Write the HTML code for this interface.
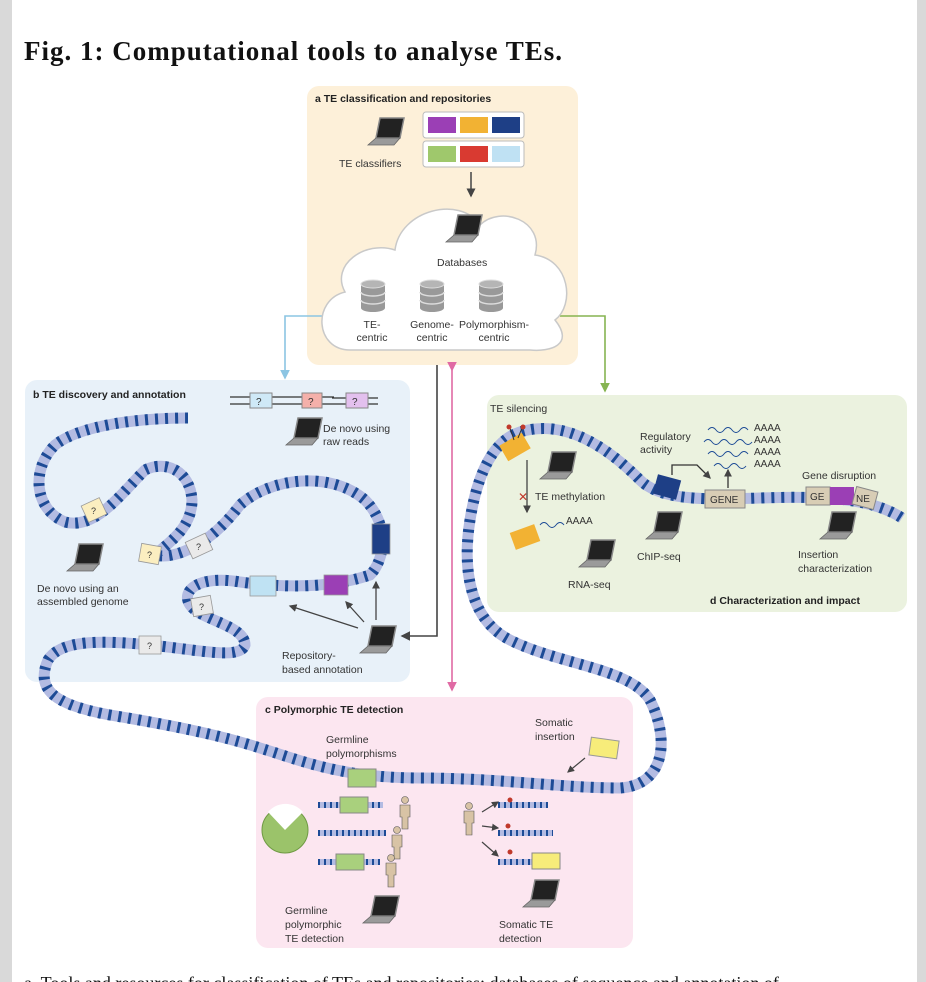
<!DOCTYPE html>
<html><head><meta charset="utf-8"><style>
body{margin:0;width:926px;height:982px;overflow:hidden;background:#fff;font-family:"Liberation Sans",sans-serif}
svg{position:absolute;left:0;top:0}
</style></head><body>
<svg width="926" height="982" viewBox="0 0 926 982" xmlns="http://www.w3.org/2000/svg" font-family="Liberation Sans, sans-serif">
<defs>
<g id="lap">
<path d="M6 0 L30 0 L26 20 L2 20 Z" fill="#222" stroke="#888" stroke-width="1.5"/>
<path d="M2 20 L26 20 L20 27 L-6 27 Z" fill="#9a9a9a" stroke="#666" stroke-width="0.8"/>
</g>
<g id="cyl">
<ellipse cx="0" cy="0" rx="12" ry="4" fill="#aaa"/>
<rect x="-12" y="0" width="24" height="24" fill="#999"/>
<ellipse cx="0" cy="24" rx="12" ry="4" fill="#999"/>
<path d="M-12 8 a12 4 0 0 0 24 0 M-12 16 a12 4 0 0 0 24 0" fill="none" stroke="#ddd" stroke-width="1.5"/>
<ellipse cx="0" cy="0" rx="12" ry="4" fill="#b5b5b5" stroke="#ddd"/>
</g>
<g id="man"><circle cx="0" cy="0" r="3.5" fill="#d8c3a5" stroke="#555" stroke-width="0.6"/><path d="M-5 5 h10 v12 h-2 v12 h-6 v-12 h-2 z" fill="#d8c3a5" stroke="#555" stroke-width="0.6"/></g>
<marker id="ah" markerWidth="6" markerHeight="6" refX="5" refY="3" orient="auto"><path d="M0 0 L6 3 L0 6 z" fill="#444"/></marker>
<marker id="ahg" markerWidth="6" markerHeight="6" refX="5" refY="3" orient="auto"><path d="M0 0 L6 3 L0 6 z" fill="#86b451"/></marker>
<marker id="ahb" markerWidth="6" markerHeight="6" refX="5" refY="3" orient="auto"><path d="M0 0 L6 3 L0 6 z" fill="#8cc5e3"/></marker>
<marker id="ahp" markerWidth="6" markerHeight="6" refX="5" refY="3" orient="auto"><path d="M0 0 L6 3 L0 6 z" fill="#e06aa4"/></marker>
</defs>
<rect x="0" y="0" width="12" height="982" fill="#d9d9d9"/>
<rect x="917" y="0" width="9" height="982" fill="#d9d9d9"/>
<text x="24" y="60" font-family="Liberation Serif, serif" font-weight="bold" font-size="27" letter-spacing="1" fill="#111">Fig. 1: Computational tools to analyse TEs.</text>

<rect x="307" y="86" width="271" height="279" rx="12" fill="#fdf0d9"/>
<rect x="25" y="380" width="385" height="302" rx="12" fill="#e8f1f9"/>
<rect x="487" y="395" width="420" height="217" rx="12" fill="#ebf2df"/>
<rect x="256" y="697" width="377" height="251" rx="12" fill="#fce6f0"/>

<path d="M330 316 H285 V378" fill="none" stroke="#8cc5e3" stroke-width="1.6" marker-end="url(#ahb)"/>
<path d="M560 316 H605 V391" fill="none" stroke="#86b451" stroke-width="1.6" marker-end="url(#ahg)"/>
<path d="M437 365 V636 H402" fill="none" stroke="#444" stroke-width="1.6" marker-end="url(#ah)"/>
<path d="M452 370 V690" fill="none" stroke="#e06aa4" stroke-width="1.6" marker-end="url(#ahp)" marker-start="url(#ahp)"/>

<text x="315" y="102" font-size="10.5" font-weight="bold" fill="#222">a  TE classification and repositories</text>
<use href="#lap" x="374" y="118"/>
<text x="339" y="167" font-size="10.5" fill="#333">TE classifiers</text>
<rect x="423" y="112" width="101" height="26" rx="3" fill="#fff" stroke="#bbb"/>
<rect x="428" y="117" width="28" height="16" fill="#9b3fb5"/><rect x="460" y="117" width="28" height="16" fill="#f2b233"/><rect x="492" y="117" width="28" height="16" fill="#1e3f86"/>
<rect x="423" y="141" width="101" height="26" rx="3" fill="#fff" stroke="#bbb"/>
<rect x="428" y="146" width="28" height="16" fill="#9fc86c"/><rect x="460" y="146" width="28" height="16" fill="#d93a31"/><rect x="492" y="146" width="28" height="16" fill="#bfe1f3"/>
<path d="M471 172 V196" stroke="#444" stroke-width="1.5" marker-end="url(#ah)"/>
<path d="M350 350 C315 350 312 300 345 292 C330 265 365 240 395 250 C400 210 460 195 480 225 C500 205 545 220 535 255 C570 260 575 305 555 320 C575 345 550 352 530 350 Z" fill="#fff" stroke="#c9c9c9" stroke-width="1.5"/>
<use href="#lap" x="452" y="215"/>
<text x="437" y="266" font-size="10.5" fill="#333">Databases</text>
<use href="#cyl" x="373" y="284"/><use href="#cyl" x="432" y="284"/><use href="#cyl" x="491" y="284"/>
<g font-size="10.5" fill="#333" text-anchor="middle">
<text x="372" y="328">TE-</text><text x="372" y="341">centric</text>
<text x="432" y="328">Genome-</text><text x="432" y="341">centric</text>
<text x="494" y="328">Polymorphism-</text><text x="494" y="341">centric</text>
</g>

<g fill="none">
<path d="M188 418 C140 418 80 425 55 445 C30 470 35 510 65 522 C95 530 120 495 145 470 C165 460 190 470 192 500 C192 530 165 545 155 555 C175 560 210 545 240 505 C270 478 330 470 365 500 C390 525 385 560 370 575 C340 585 300 590 240 582 C200 575 180 590 190 605 C200 620 245 625 245 645 C240 660 200 650 150 645 C100 640 60 640 48 660 C35 690 55 705 110 715 C170 725 220 735 260 748 C300 760 340 778 420 778 C500 778 560 788 620 788 C665 785 670 740 650 700 C630 668 560 665 510 640 C470 620 462 570 470 520 C478 470 495 440 520 432 C560 420 600 440 640 480 C660 500 700 500 760 498 C820 496 870 497 902 518" stroke="#b3bbe2" stroke-width="11"/>
<path d="M188 418 C140 418 80 425 55 445 C30 470 35 510 65 522 C95 530 120 495 145 470 C165 460 190 470 192 500 C192 530 165 545 155 555 C175 560 210 545 240 505 C270 478 330 470 365 500 C390 525 385 560 370 575 C340 585 300 590 240 582 C200 575 180 590 190 605 C200 620 245 625 245 645 C240 660 200 650 150 645 C100 640 60 640 48 660 C35 690 55 705 110 715 C170 725 220 735 260 748 C300 760 340 778 420 778 C500 778 560 788 620 788 C665 785 670 740 650 700 C630 668 560 665 510 640 C470 620 462 570 470 520 C478 470 495 440 520 432 C560 420 600 440 640 480 C660 500 700 500 760 498 C820 496 870 497 902 518" stroke="#1d4b96" stroke-width="11" stroke-dasharray="3 7"/>
</g>

<text x="33" y="398" font-size="10.5" font-weight="bold" fill="#222">b  TE discovery and annotation</text>
<g stroke="#333" stroke-width="1.2">
<path d="M230 397 H250 M272 397 H290 M230 404 H250 M272 404 H290 M290 397 h12 M322 397 h12 M290 404 h12 M322 404 h12 M332 398 h14 M368 398 h10 M332 404 h14 M368 404 h10"/>
</g>
<rect x="250" y="393" width="22" height="15" fill="#cfe9f7" stroke="#888"/><text x="256" y="405" font-size="10" fill="#333">?</text>
<rect x="302" y="393" width="20" height="15" fill="#f4b0aa" stroke="#888"/><text x="308" y="405" font-size="10" fill="#333">?</text>
<rect x="346" y="393" width="22" height="15" fill="#e3c0ee" stroke="#888"/><text x="352" y="405" font-size="10" fill="#333">?</text>
<use href="#lap" x="292" y="418"/>
<text x="323" y="432" font-size="10.5" fill="#333">De novo using</text><text x="323" y="445" font-size="10.5" fill="#333">raw reads</text>
<use href="#lap" x="73" y="544"/>
<text x="37" y="592" font-size="10.5" fill="#333">De novo using an</text><text x="37" y="605" font-size="10.5" fill="#333">assembled genome</text>
<g stroke="#999" stroke-width="0.8" font-size="9" fill="#333">
<rect x="84" y="501" width="20" height="18" fill="#fbeec0" transform="rotate(-25 94 510)"/>
<rect x="140" y="545" width="20" height="18" fill="#fbeec0" transform="rotate(10 150 554)"/>
<rect x="188" y="537" width="22" height="18" fill="#eaeaea" transform="rotate(-25 199 546)"/>
<rect x="192" y="597" width="20" height="18" fill="#eaeaea" transform="rotate(-10 202 606)"/>
<rect x="139" y="636" width="22" height="18" fill="#eaeaea"/>
<rect x="250" y="576" width="26" height="20" fill="#bfe2f3"/>
<rect x="324" y="575" width="24" height="20" fill="#9b3fb5"/>
<rect x="372" y="524" width="18" height="30" fill="#1e3f86"/>
</g>
<g font-size="9" fill="#333"><text x="91" y="514">?</text><text x="147" y="558">?</text><text x="196" y="550">?</text><text x="199" y="610">?</text><text x="147" y="649">?</text></g>
<path d="M358 628 L290 606" stroke="#444" stroke-width="1.3" marker-end="url(#ah)"/>
<path d="M364 622 L346 602" stroke="#444" stroke-width="1.3" marker-end="url(#ah)"/>
<path d="M376 620 V582" stroke="#444" stroke-width="1.3" marker-end="url(#ah)"/>
<use href="#lap" x="366" y="626"/>
<text x="282" y="659" font-size="10.5" fill="#333">Repository-</text><text x="282" y="673" font-size="10.5" fill="#333">based annotation</text>

<text x="490" y="412" font-size="10.5" fill="#333">TE silencing</text>
<rect x="502" y="438" width="26" height="18" fill="#f2b233" transform="rotate(-30 515 447)"/>
<path d="M514 440 l-4 -12 M518 438 l4 -10" stroke="#333"/><circle cx="509" cy="427" r="2.5" fill="#c0392b"/><circle cx="523" cy="427" r="2.5" fill="#c0392b"/>
<use href="#lap" x="546" y="452"/>
<path d="M527 460 V512" stroke="#444" stroke-width="1.3" marker-end="url(#ah)"/>
<text x="518" y="501" font-size="12" fill="#c0392b">✕</text>
<text x="535" y="500" font-size="10.5" fill="#333">TE methylation</text>
<rect x="512" y="528" width="26" height="18" fill="#f2b233" transform="rotate(-20 525 537)"/>
<path d="M540 525 q4 -5 8 0 t8 0 t8 0" stroke="#1d4b96" fill="none"/>
<text x="566" y="524" font-size="10" fill="#333">AAAA</text>
<use href="#lap" x="585" y="540"/>
<text x="568" y="588" font-size="10.5" fill="#333">RNA-seq</text>
<text x="640" y="440" font-size="10.5" fill="#333">Regulatory</text><text x="640" y="453" font-size="10.5" fill="#333">activity</text>
<g stroke="#1d4b96" fill="none"><path d="M708 430 q4 -5 8 0 t8 0 t8 0 t8 0 t8 0"/><path d="M704 442 q4 -5 8 0 t8 0 t8 0 t8 0 t8 0 t8 0"/><path d="M708 454 q4 -5 8 0 t8 0 t8 0 t8 0 t8 0"/><path d="M714 466 q4 -5 8 0 t8 0 t8 0 t8 0"/></g>
<g font-size="10" fill="#333"><text x="754" y="431">AAAA</text><text x="754" y="443">AAAA</text><text x="754" y="455">AAAA</text><text x="754" y="467">AAAA</text></g>
<rect x="655" y="477" width="24" height="20" fill="#1e3f86" transform="rotate(15 667 487)"/>
<path d="M672 475 V465 H697 L710 478" fill="none" stroke="#333" stroke-width="1.3" marker-end="url(#ah)"/>
<path d="M728 488 V470" stroke="#333" stroke-width="1.3" marker-end="url(#ah)"/>
<rect x="705" y="490" width="40" height="18" fill="#d8cdb5" stroke="#888"/><text x="710" y="503" font-size="10" fill="#333">GENE</text>
<use href="#lap" x="652" y="512"/>
<text x="637" y="560" font-size="10.5" fill="#333">ChIP-seq</text>
<text x="802" y="479" font-size="10.5" fill="#333">Gene disruption</text>
<rect x="806" y="487" width="24" height="18" fill="#d8cdb5" stroke="#888"/><text x="810" y="500" font-size="10" fill="#333">GE</text>
<rect x="830" y="487" width="24" height="18" fill="#9b3fb5"/>
<rect x="854" y="489" width="22" height="18" fill="#d8cdb5" stroke="#888" transform="rotate(15 865 498)"/><text x="856" y="502" font-size="10" fill="#333">NE</text>
<use href="#lap" x="826" y="512"/>
<text x="798" y="558" font-size="10.5" fill="#333">Insertion</text><text x="798" y="572" font-size="10.5" fill="#333">characterization</text>
<text x="710" y="604" font-size="10.5" font-weight="bold" fill="#222">d  Characterization and impact</text>

<text x="265" y="713" font-size="10.5" font-weight="bold" fill="#222">c  Polymorphic TE detection</text>
<text x="326" y="743" font-size="10.5" fill="#333">Germline</text><text x="326" y="757" font-size="10.5" fill="#333">polymorphisms</text>
<text x="535" y="726" font-size="10.5" fill="#333">Somatic</text><text x="535" y="740" font-size="10.5" fill="#333">insertion</text>
<rect x="590" y="739" width="28" height="18" fill="#f7ec7a" stroke="#999" transform="rotate(8 604 748)"/>
<path d="M585 758 L568 772" stroke="#444" stroke-width="1.2" marker-end="url(#ah)"/>
<rect x="348" y="769" width="28" height="18" fill="#a9d07d" stroke="#888"/>
<circle cx="285" cy="830" r="23" fill="#9bc36a" stroke="#6f9a44"/>
<path d="M285 830 L268 812 A23 23 0 0 1 303 812 Z" fill="#fff"/>
<g fill="none"><g stroke="#b3bbe2" stroke-width="6"><path d="M318 805 h65"/><path d="M318 833 h68"/><path d="M318 862 h62"/><path d="M498 805 h50"/><path d="M498 833 h55"/><path d="M498 862 h62"/></g>
<g stroke="#1d4b96" stroke-width="6" stroke-dasharray="2 4"><path d="M318 805 h65"/><path d="M318 833 h68"/><path d="M318 862 h62"/><path d="M498 805 h50"/><path d="M498 833 h55"/><path d="M498 862 h62"/></g></g>
<rect x="340" y="797" width="28" height="16" fill="#a9d07d" stroke="#888"/>
<rect x="336" y="854" width="28" height="16" fill="#a9d07d" stroke="#888"/>
<rect x="532" y="853" width="28" height="16" fill="#f7ec7a" stroke="#888"/>
<use href="#man" x="405" y="800"/><use href="#man" x="397" y="830"/><use href="#man" x="391" y="858"/>
<use href="#man" x="469" y="806"/>
<g stroke="#444" stroke-width="1.2"><path d="M482 812 L498 802" marker-end="url(#ah)"/><path d="M482 826 L498 828" marker-end="url(#ah)"/><path d="M482 842 L498 856" marker-end="url(#ah)"/></g>
<circle cx="510" cy="800" r="2.5" fill="#c0392b"/><circle cx="508" cy="826" r="2.5" fill="#c0392b"/><circle cx="510" cy="852" r="2.5" fill="#c0392b"/>
<use href="#lap" x="369" y="896"/>
<use href="#lap" x="529" y="880"/>
<text x="285" y="914" font-size="10.5" fill="#333">Germline</text><text x="285" y="928" font-size="10.5" fill="#333">polymorphic</text><text x="285" y="942" font-size="10.5" fill="#333">TE detection</text>
<text x="499" y="928" font-size="10.5" fill="#333">Somatic TE</text><text x="499" y="942" font-size="10.5" fill="#333">detection</text>
<text x="24" y="989" font-family="Liberation Serif, serif" font-size="18" fill="#111">a. Tools and resources for classification of TEs and repositories: databases of sequence and annotation of</text>
</svg>
</body></html>
